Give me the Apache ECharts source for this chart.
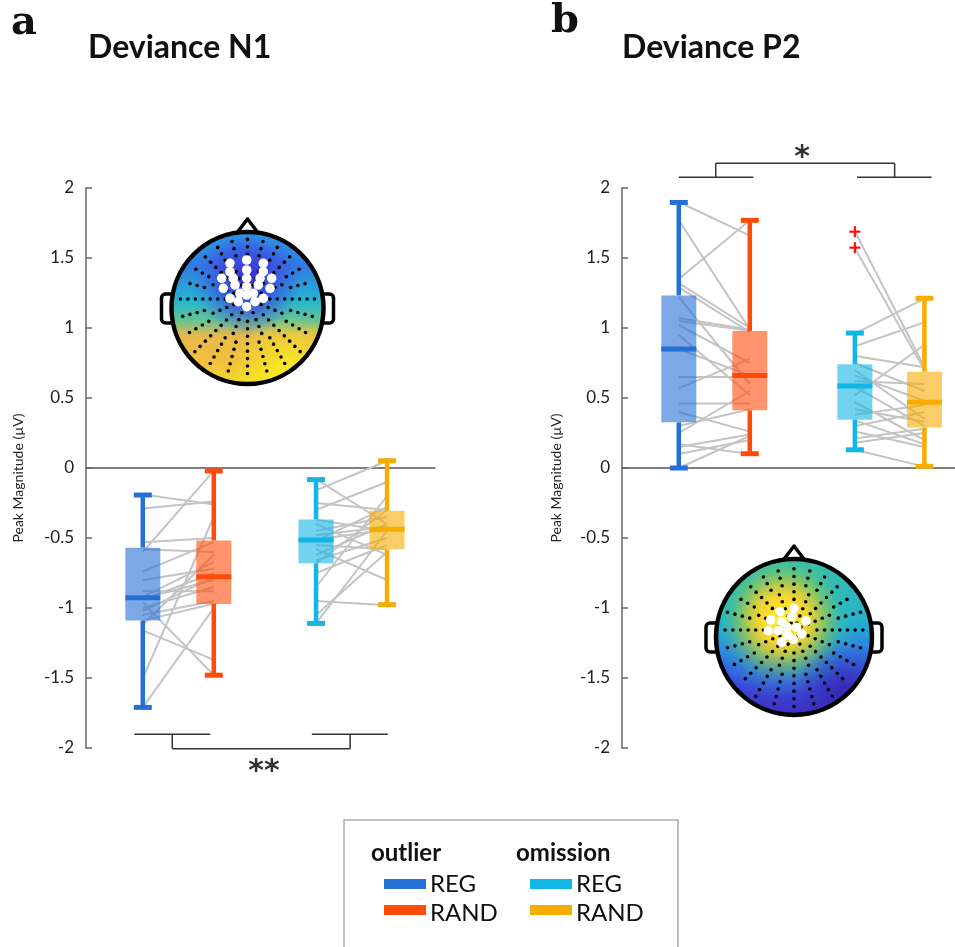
<!DOCTYPE html>
<html><head><meta charset="utf-8">
<script src="https://cdn.jsdelivr.net/npm/echarts@6/dist/echarts.min.js"></script>
<style>html,body{margin:0;padding:0;background:#fff}#c{width:955px;height:947px}</style>
</head><body><div id="c"></div>
<script>
// ---------- data ----------
const groups = ['outlier REG', 'outlier RAND', 'omission REG', 'omission RAND'];
const colors = ['#2570d6', '#ff4b0a', '#12b6e4', '#f7ac00'];
const boxFills = ['rgba(37,112,214,0.6)', 'rgba(255,75,10,0.6)', 'rgba(18,182,228,0.6)', 'rgba(247,172,0,0.6)'];
const posN1 = [0.80, 1.80, 3.24, 4.24];
const posP2 = [0.80, 1.80, 3.28, 4.26];
const yTicks = [-2, -1.5, -1, -0.5, 0, 0.5, 1, 1.5, 2];

// box statistics per group: [min, q1, median, q3, max]
const statsN1 = [
  [-1.71, -1.09, -0.926, -0.569, -0.193],
  [-1.48, -0.971, -0.776, -0.517, -0.021],
  [-1.11, -0.681, -0.514, -0.367, -0.083],
  [-0.976, -0.583, -0.438, -0.305, 0.052]
];
const statsP2 = [
  [0.0, 0.326, 0.85, 1.233, 1.897],
  [0.102, 0.412, 0.66, 0.979, 1.769],
  [0.13, 0.345, 0.586, 0.741, 0.964],
  [0.012, 0.29, 0.469, 0.688, 1.212]
];
const outliersP2Group = [2, 2];
const outliersP2Value = [1.688, 1.574];

// participant values (paired REG -> RAND)
const n1OutlierREG  = [-0.19, -0.29, -0.53, -0.60, -0.58, -0.74, -0.80, -0.88, -0.92, -0.93, -0.94, -0.96, -1.00, -1.05, -1.09, -1.12, -1.16, -1.50, -1.71, -1.02];
const n1OutlierRAND = [-0.26, -0.24, -0.50, -0.02, -0.60, -0.53, -0.72, -0.88, -0.67, -0.80, -0.75, -1.48, -0.85, -0.95, -0.97, -0.62, -1.37, -0.35, -1.00, -0.78];
const n1OmissionREG  = [-0.08, -0.16, -0.25, -0.30, -0.37, -0.40, -0.45, -0.48, -0.51, -0.52, -0.55, -0.58, -0.62, -0.66, -0.68, -0.75, -0.85, -0.95, -1.05, -1.11];
const n1OmissionRAND = [-0.40, 0.05, -0.30, -0.10, -0.45, -0.62, -0.35, -0.42, -0.44, -0.28, -0.58, -0.80, -0.40, -0.50, -0.30, -0.55, -0.20, -0.98, -0.60, -0.45];
const p2OutlierREG  = [1.90, 1.77, 1.35, 1.32, 1.29, 1.22, 1.07, 1.05, 1.02, 0.95, 0.85, 0.65, 0.57, 0.46, 0.40, 0.30, 0.25, 0.17, 0.15, 0.10, 0.00];
const p2OutlierRAND = [1.66, 0.99, 1.77, 1.00, 0.97, 0.60, 0.99, 0.98, 0.75, 0.52, 0.66, 0.65, 0.78, 0.46, 0.26, 0.42, 0.55, 0.10, 0.24, 0.20, 0.23];
const p2OmissionREG  = [1.69, 1.57, 0.96, 0.87, 0.80, 0.75, 0.70, 0.66, 0.62, 0.58, 0.52, 0.47, 0.42, 0.38, 0.34, 0.30, 0.26, 0.21, 0.18, 0.13];
const p2OmissionRAND = [0.72, 0.70, 1.21, 1.04, 0.72, 0.55, 0.35, 0.48, 0.60, 0.30, 0.88, 0.20, 0.33, 0.45, 0.17, 0.40, 0.15, 0.28, 0.25, 0.01];

// significance brackets (annotation segments, data coords)
const bracketN1 = [[0.68, -1.902, 1.75, -1.902], [3.18, -1.902, 4.25, -1.902], [1.215, -1.902, 1.215, -2.005], [3.72, -1.902, 3.72, -2.005], [1.215, -2.005, 3.72, -2.005]];
const bracketP2 = [[0.80, 2.076, 1.85, 2.076], [3.31, 2.076, 4.36, 2.076], [1.32, 2.076, 1.32, 2.176], [3.84, 2.076, 3.84, 2.176], [1.32, 2.176, 3.84, 2.176]];

// ---------- build ----------
const FONT = 'Lato';
function pairs(pos, a, b, ia, ib) { return a.map((v, i) => [pos[ia], v, pos[ib], b[i]]); }
function boxData(pos, stats) { return stats.map((s, i) => [pos[i], s[0], s[1], s[2], s[3], s[4], i]); }

function segRender(style) {
  return function (params, api) {
    const p1 = api.coord([api.value(0), api.value(1)]);
    const p2 = api.coord([api.value(2), api.value(3)]);
    return { type: 'line', shape: { x1: p1[0], y1: p1[1], x2: p2[0], y2: p2[1] }, style: style };
  };
}
function boxRender(params, api) {
  const x = api.value(0), gi = api.value(6);
  const pMin = api.coord([x, api.value(1)]), pQ1 = api.coord([x, api.value(2)]),
        pMed = api.coord([x, api.value(3)]), pQ3 = api.coord([x, api.value(4)]),
        pMax = api.coord([x, api.value(5)]);
  const bw = 35, cw = 18, c = colors[gi];
  const cx = pMed[0];
  return { type: 'group', children: [
    { type: 'rect', shape: { x: cx - bw / 2, y: pQ3[1], width: bw, height: pQ1[1] - pQ3[1] }, style: { fill: boxFills[gi] } },
    { type: 'line', shape: { x1: cx, y1: pMax[1], x2: cx, y2: pQ3[1] }, style: { stroke: c, lineWidth: 4.5 } },
    { type: 'line', shape: { x1: cx, y1: pQ1[1], x2: cx, y2: pMin[1] }, style: { stroke: c, lineWidth: 4.5 } },
    { type: 'line', shape: { x1: cx - cw / 2, y1: pMax[1], x2: cx + cw / 2, y2: pMax[1] }, style: { stroke: c, lineWidth: 5 } },
    { type: 'line', shape: { x1: cx - cw / 2, y1: pMin[1], x2: cx + cw / 2, y2: pMin[1] }, style: { stroke: c, lineWidth: 5 } },
    { type: 'line', shape: { x1: cx - bw / 2, y1: pMed[1], x2: cx + bw / 2, y2: pMed[1] }, style: { stroke: c, lineWidth: 5 } }
  ] };
}
function plusRender(params, api) {
  const p = api.coord([api.value(0), api.value(1)]);
  const s = 5.5;
  return { type: 'group', children: [
    { type: 'line', shape: { x1: p[0] - s, y1: p[1], x2: p[0] + s, y2: p[1] }, style: { stroke: '#ff1010', lineWidth: 2.2 } },
    { type: 'line', shape: { x1: p[0], y1: p[1] - s, x2: p[0], y2: p[1] + s }, style: { stroke: '#ff1010', lineWidth: 2.2 } }
  ] };
}

const gray = { stroke: '#c4c4c4', lineWidth: 2 };
const brk = { stroke: '#333', lineWidth: 1.5 };

function yAxisCfg(gi) {
  return {
    gridIndex: gi, type: 'value', min: -2, max: 2, interval: 0.5,
    axisLine: { show: true, onZero: false, lineStyle: { color: '#666', width: 1.5 } },
    axisTick: { show: true, inside: true, length: 6, lineStyle: { color: '#666', width: 1.5 } },
    axisLabel: { fontFamily: FONT, fontSize: 17, color: '#222', margin: 12 },
    splitLine: { show: false }
  };
}
function xAxisCfg(gi, max) {
  return {
    gridIndex: gi, type: 'value', min: 0, max: max,
    axisLine: { show: true, onZero: true, lineStyle: { color: '#555', width: 1.5 } },
    axisTick: { show: false }, axisLabel: { show: false }, splitLine: { show: false }
  };
}

// ---------- heads (decoration) ----------
function head(cx, cy, R, baseFill, overlays, whites, dyC) {
  const els = [];
  const ear = (x) => ({ type: 'rect', shape: { x: x, y: cy - 14, width: 16, height: 29, r: 4 }, style: { fill: '#fff', stroke: '#000', lineWidth: 3.5 } });
  els.push(ear(cx - R - 10));
  els.push(ear(cx + R - 6));
  els.push({ type: 'polygon', shape: { points: [[cx - 16, cy - R + 8], [cx, cy - R - 13], [cx + 16, cy - R + 8]] }, style: { fill: '#fff', stroke: '#000', lineWidth: 3.5, lineJoin: 'round' } });
  els.push({ type: 'circle', shape: { cx: cx, cy: cy, r: R }, style: { fill: baseFill } });
  overlays.forEach(o => els.push({ type: 'circle', shape: { cx: cx, cy: cy, r: R }, style: { fill: o } }));
  // electrode dots, radial layout
  const pc = [cx, cy + dyC];
  for (let i = 1; i <= 10; i++) {
    const r = i * R * 0.098;
    const n = i <= 2 ? 8 : (i <= 5 ? 16 : 24);
    for (let k = 0; k < n; k++) {
      const a = (k / n) * Math.PI * 2 + (i <= 2 ? Math.PI / 8 : 0);
      const x = pc[0] + r * Math.cos(a), y = pc[1] + r * Math.sin(a);
      if (Math.hypot(x - cx, y - cy) < R * 0.91) {
        els.push({ type: 'circle', shape: { cx: x, cy: y, r: 1.8 }, style: { fill: '#000' } });
      }
    }
  }
  whites.forEach(w => els.push({ type: 'circle', shape: { cx: cx + w[0], cy: cy + w[1], r: 4.8 }, style: { fill: '#fff' } }));
  els.push({ type: 'circle', shape: { cx: cx, cy: cy, r: R }, style: { fill: 'none', stroke: '#000', lineWidth: 4.5 } });
  return els;
}
const RG = echarts.graphic.RadialGradient, LG = echarts.graphic.LinearGradient;
const whitesA = [[-17.5,-44.7],[-0.8,-48],[15.8,-44.7],[-17.5,-36.3],[-0.8,-38],[15.8,-36.3],[-25.8,-29.7],[-14.2,-29.7],[-0.8,-29.7],[12.5,-29.7],[24.2,-29.7],[-24.2,-19.7],[-12.5,-23],[-0.8,-21.3],[10.8,-23],[22.5,-19.7],[-17.5,-9.7],[-7.5,-14.7],[-0.8,-13],[5.8,-14.7],[15.8,-9.7],[-9.2,-6.3],[-0.8,-1.3],[7.5,-6.3]];
const whitesB = [[-14,-25.3],[0,-28.7],[-23.3,-17],[-12.3,-15.3],[-2.3,-20.3],[12,-16],[-25.7,-6.3],[-15.7,-6.3],[-6.7,-9.7],[2.7,-9.7],[-6.7,-2],[7.7,-3],[-12.3,5.3],[-0.7,2.3]];

const headA = head(247.5, 308, 76,
  new LG(0, 0, 0, 1, [
    { offset: 0, color: '#28a6e2' }, { offset: 0.22, color: '#3478e2' }, { offset: 0.45, color: '#22b6d0' },
    { offset: 0.58, color: '#62c496' }, { offset: 0.68, color: '#e6b94c' }, { offset: 0.85, color: '#f2c03c' }, { offset: 1, color: '#f4d82c' }]),
  [new RG(0.5, 0.32, 0.36, [{ offset: 0, color: 'rgba(62,34,200,0.95)' }, { offset: 0.55, color: 'rgba(62,60,225,0.6)' }, { offset: 1, color: 'rgba(60,90,230,0)' }]),
   new RG(0.78, 0.95, 0.4, [{ offset: 0, color: 'rgba(250,242,30,0.95)' }, { offset: 1, color: 'rgba(250,240,30,0)' }])],
  whitesA, -9);
const headB = head(794, 637, 78,
  new LG(0, 0, 0, 1, [
    { offset: 0, color: '#3cbea4' }, { offset: 0.4, color: '#24b2cc' }, { offset: 0.6, color: '#2e7ae6' },
    { offset: 0.8, color: '#3a4ade' }, { offset: 1, color: '#3c30c0' }]),
  [new RG(0.43, 0.39, 0.5, [{ offset: 0, color: 'rgba(255,242,40,1)' }, { offset: 0.3, color: 'rgba(248,214,50,1)' }, { offset: 0.45, color: 'rgba(200,205,62,0.9)' }, { offset: 0.6, color: 'rgba(120,200,100,0.7)' }, { offset: 0.8, color: 'rgba(50,190,175,0.3)' }, { offset: 1, color: 'rgba(40,180,200,0)' }]),
   new RG(0.82, 0.85, 0.32, [{ offset: 0, color: 'rgba(55,25,160,0.65)' }, { offset: 1, color: 'rgba(55,25,160,0)' }])],
  whitesB, -7);

const txt = (x, y, t, size, opts) => Object.assign({ type: 'text', x: x, y: y, style: Object.assign({ text: t, fontFamily: FONT, fontSize: size, fill: '#111', textAlign: 'left', textVerticalAlign: 'middle' }, opts || {}) });

const graphics = [
  txt(24, 24, 'a', 40, { fontFamily: 'DejaVu Serif', fontWeight: 'bold', textAlign: 'center' }),
  txt(565, 22, 'b', 40, { fontFamily: 'DejaVu Serif', fontWeight: 'bold', textAlign: 'center' }),
  txt(88, 48, 'Deviance N1', 32, { fontWeight: 'bold' }),
  txt(622, 48, 'Deviance P2', 32, { fontWeight: 'bold' }),
  Object.assign(txt(18, 478, 'Peak Magnitude (\u00b5V)', 14, { textAlign: 'center', fill: '#222' }), { rotation: Math.PI / 2 }),
  Object.assign(txt(556, 478, 'Peak Magnitude (\u00b5V)', 14, { textAlign: 'center', fill: '#222' }), { rotation: Math.PI / 2 }),
  txt(264, 772, '**', 30, { fontFamily: 'DejaVu Sans', fontWeight: 'bold', textAlign: 'center', fill: '#333' }),
  txt(802, 158, '*', 30, { fontFamily: 'DejaVu Sans', fontWeight: 'bold', textAlign: 'center', fill: '#333' }),
  // legend
  { type: 'rect', shape: { x: 344, y: 820, width: 334, height: 140 }, style: { fill: '#fff', stroke: '#aaa', lineWidth: 1.5 } },
  txt(371, 853, 'outlier', 24, { fontWeight: 'bold' }),
  txt(516, 853, 'omission', 24, { fontWeight: 'bold' }),
  { type: 'rect', shape: { x: 384, y: 879, width: 42, height: 10 }, style: { fill: colors[0] } },
  { type: 'rect', shape: { x: 384, y: 905, width: 42, height: 10 }, style: { fill: colors[1] } },
  { type: 'rect', shape: { x: 530, y: 879, width: 42, height: 10 }, style: { fill: colors[2] } },
  { type: 'rect', shape: { x: 530, y: 905, width: 42, height: 10 }, style: { fill: colors[3] } },
  txt(430, 884, 'REG', 24), txt(430, 913, 'RAND', 24),
  txt(576, 884, 'REG', 24), txt(576, 913, 'RAND', 24)
].concat(headA, headB);

const option = {
  animation: false,
  backgroundColor: '#fff',
  grid: [
    { left: 86, top: 188, width: 349, height: 560 },
    { left: 622, top: 188, width: 333, height: 560 }
  ],
  xAxis: [xAxisCfg(0, 349 / 71), xAxisCfg(1, 333 / 71)],
  yAxis: [yAxisCfg(0), yAxisCfg(1)],
  series: [
    { type: 'custom', xAxisIndex: 0, yAxisIndex: 0, renderItem: segRender(gray), data: pairs(posN1, n1OutlierREG, n1OutlierRAND, 0, 1).concat(pairs(posN1, n1OmissionREG, n1OmissionRAND, 2, 3)) },
    { type: 'custom', xAxisIndex: 1, yAxisIndex: 1, renderItem: segRender(gray), data: pairs(posP2, p2OutlierREG, p2OutlierRAND, 0, 1).concat(pairs(posP2, p2OmissionREG, p2OmissionRAND, 2, 3)) },
    { type: 'custom', xAxisIndex: 0, yAxisIndex: 0, renderItem: boxRender, data: boxData(posN1, statsN1) },
    { type: 'custom', xAxisIndex: 1, yAxisIndex: 1, renderItem: boxRender, data: boxData(posP2, statsP2) },
    { type: 'custom', xAxisIndex: 1, yAxisIndex: 1, renderItem: plusRender, data: outliersP2Value.map((v, i) => [posP2[outliersP2Group[i]], v]) },
    { type: 'custom', xAxisIndex: 0, yAxisIndex: 0, renderItem: segRender(brk), data: bracketN1 },
    { type: 'custom', xAxisIndex: 1, yAxisIndex: 1, renderItem: segRender(brk), data: bracketP2 }
  ],
  graphic: graphics
};
const chart = echarts.init(document.getElementById('c'), null, { renderer: 'canvas' });
chart.setOption(option);
</script></body></html>
